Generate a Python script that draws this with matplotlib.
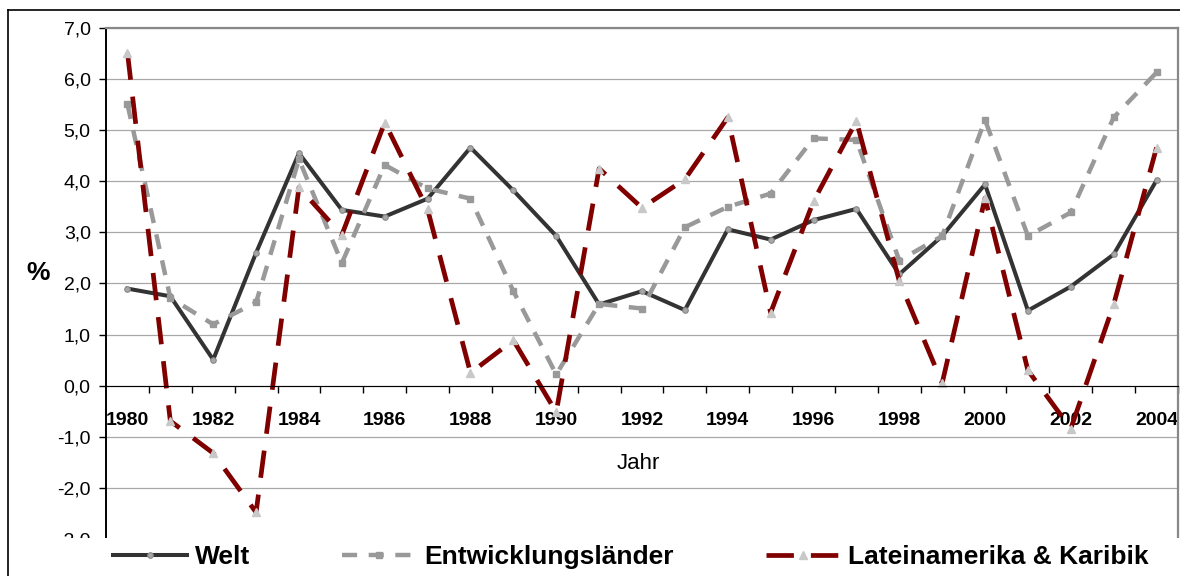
import matplotlib
matplotlib.use("Agg")
import matplotlib.pyplot as plt
import matplotlib.transforms as mtransforms
from matplotlib.lines import Line2D
from matplotlib.patches import Rectangle
from matplotlib.ticker import FuncFormatter, FixedLocator, FixedFormatter

# Wirtschaftswachstum in %, 1980-2004
years = list(range(1980, 2005))
welt = [1.9, 1.75, 0.51, 2.6, 4.55, 3.44, 3.31, 3.66, 4.66, 3.82, 2.93, 1.59, 1.85,
        1.48, 3.06, 2.86, 3.24, 3.46, 2.18, 2.93, 3.94, 1.47, 1.94, 2.57, 4.02]
entwicklung = [5.51, 1.72, 1.2, 1.63, 4.43, 2.4, 4.32, 3.86, 3.66, 1.85, 0.22, 1.6, 1.51,
               3.1, 3.5, 3.76, 4.84, 4.81, 2.45, 2.93, 5.2, 2.93, 3.39, 5.25, 6.13]
latein = [6.52, -0.69, -1.32, -2.48, 3.88, 2.95, 5.15, 3.45, 0.25, 0.89, -0.52, 4.25, 3.48,
          4.04, 5.25, 1.43, 3.61, 5.18, 2.05, 0.05, 3.67, 0.3, -0.84, 1.59, 4.66]
labeled_years = list(range(1980, 2005, 2))

plt.rcParams['font.family'] = ['Liberation Sans', 'DejaVu Sans']

W, H = 1180, 576
fig = plt.figure(figsize=(W / 100, H / 100), dpi=100)
ax = fig.add_axes([106 / W, 1 - 539 / H, 1072 / W, 511 / H])

ax.plot(years, welt, color='#333333', lw=2.9, marker='o', ms=4,
        mfc='#a8a8a8', mec='#888888', mew=0.8, label='Welt')
ax.plot(years, entwicklung, color='#999999', lw=3.2, marker='s', ms=5,
        mfc='#999999', mec='#999999', dashes=(3.4, 2.6), label='Entwicklungsländer')
ax.plot(years, latein, color='#800000', lw=3.4, marker='^', ms=5.5,
        mfc='#c8c8c8', mec='#c8c8c8', dashes=(5.8, 3.6), label='Lateinamerika & Karibik')

ax.set_xlim(1979.5, 2004.5)
ax.set_ylim(-3, 7)
ax.set_yticks(range(-3, 8))
ax.yaxis.set_major_formatter(FuncFormatter(lambda v, p: f"{v:.1f}".replace('.', ',')))
ax.grid(axis='y', color='#a8a8a8', lw=0.9)
ax.set_axisbelow(True)

# category axis: ticks between years, labels on even years
ax.xaxis.set_major_locator(FixedLocator([y + 0.5 for y in years]))
ax.xaxis.set_major_formatter(FixedFormatter([''] * len(years)))
ax.xaxis.set_minor_locator(FixedLocator(labeled_years))
ax.xaxis.set_minor_formatter(FixedFormatter([str(y) for y in labeled_years]))
ax.tick_params(axis='x', which='major', direction='out', length=5, width=1, color='black')
ax.tick_params(axis='x', which='minor', length=0, pad=19, labelsize=14)
ax.tick_params(axis='y', direction='out', length=5, width=1, labelsize=14, pad=6)

ax.spines['bottom'].set_position(('data', 0))
ax.spines['bottom'].set_color('black')
ax.spines['left'].set_color('black')
ax.spines['left'].set_linewidth(1.4)
for s in ('top', 'right'):
    ax.spines[s].set_color('#888888')
    ax.spines[s].set_linewidth(1.6)

trans = mtransforms.blended_transform_factory(ax.transAxes, ax.transData)
ax.text(0.497, -1.52, 'Jahr', transform=trans, ha='center', va='center', fontsize=16)
fig.text(38 / W, 1 - 273 / H, '%', ha='center', va='center', fontsize=19, fontweight='bold')

# white band under the plot holding the legend
fig.patches.append(Rectangle((9 / W, 0), 1, 38 / H, transform=fig.transFigure,
                             facecolor='white', edgecolor='none', zorder=5))
# outer chart frame
fig.add_artist(Line2D([8 / W, 1], [1 - 10 / H, 1 - 10 / H], color='black', lw=1.2,
                      transform=fig.transFigure))
fig.add_artist(Line2D([8 / W, 8 / W], [0, 1 - 10 / H], color='black', lw=1.2,
                      transform=fig.transFigure))

leg = fig.legend(loc='center left', bbox_to_anchor=(113 / W, 1 - 557 / H), ncol=3,
                 frameon=False, borderpad=0, borderaxespad=0, handlelength=2.8,
                 handletextpad=0.3, columnspacing=3.5,
                 prop={'size': 19, 'weight': 'bold'})
leg.set_zorder(6)

fig.canvas.draw()
for lbl in ax.get_xticklabels(minor=True):
    lbl.set_fontweight('bold')
    lbl.set_family(['Liberation Sans Narrow', 'Liberation Sans'])

fig.savefig('out.png', dpi=100)
